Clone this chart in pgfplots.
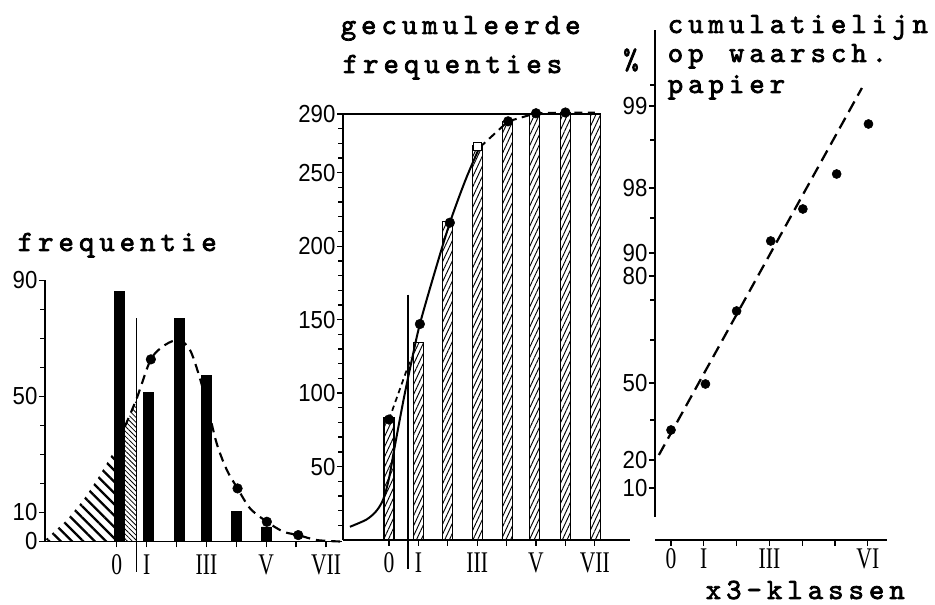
\documentclass[border=0pt]{standalone}
\usepackage{fontspec}
\usepackage{pgfplots}
\pgfplotsset{compat=1.18}
\usetikzlibrary{patterns.meta}

% fonts: narrow sans digits, narrow serif class numerals, heavy typewriter captions
\newfontfamily\digitfamily{Liberation Sans}[FakeStretch=0.9]
\newfontfamily\romfamily{Liberation Serif}[FakeStretch=0.72]
\newfontfamily\typefamily{lmmono10-regular.otf}[FakeBold=2.5]
\newcommand\tickfont{\fontsize{18.5pt}{18pt}\digitfamily}
\newcommand\romfont{\fontsize{22.5pt}{22pt}\romfamily}
\newcommand\typefont{\fontsize{22pt}{24pt}\typefamily}

% typewriter pitch: every character in a box of fixed width
\makeatletter
\def\spread@#1{\ifx#1\relax\else\hbox to 15.3pt{\hss#1\hss}\expandafter\spread@\fi}
\newcommand\spread[1]{\spread@#1\relax}
\makeatother

\pgfplotsset{
  sketch/.style={
    axis x line*=bottom, axis y line*=left,
    axis line style={line width=1.3pt,-},
    clip=false,
    tick align=outside,
    major tick length=4.5pt, minor tick length=3.5pt,
    every tick/.style={line width=1pt,black},
    yticklabel style={font=\tickfont, inner sep=1pt},
    xticklabel style={font=\romfont, inner sep=1pt, yshift=-4pt},
  },
}

\begin{document}
\begin{tikzpicture}[x=0.75pt,y=0.75pt]
\useasboundingbox (0,0) rectangle (935,605);

% ---------------- frequencies per class ----------------
\begin{axis}[sketch,
  at={(33.75pt,47.625pt)}, anchor=south west,
  x=22.425pt, y=2.175pt,
  xmin=-2.4, xmax=7.55, ymin=0, ymax=90,
  xtick={0,...,7}, xticklabels={0,I,,III,,V,,VII},
  ytick={0,10,50,90}, yticklabels={0,10,50,90},
  minor ytick={20,30,40,60,70,80},
]
% tail area below the lowest class boundary
\addplot[draw=none, pattern={Lines[angle=-45,distance=6pt,line width=1.7pt]}]
  coordinates {(-2.4,0.5) (-1.67,7.4) (-1.12,14.3) (-0.67,21.2) (-0.33,27) (-0.08,31.4)} \closedcycle;
\addplot[draw=none, pattern={Lines[angle=-45,distance=2.6pt,line width=0.6pt]}]
  coordinates {(0.27,39.6) (0.47,44.5) (0.67,49.4)} \closedcycle;
% class frequencies
\addplot[ybar, bar width=7.5pt, bar shift=0pt, fill=black, draw=black]
  coordinates {(0.1,86.2) (1.07,51.3) (2.1,77) (3.0,57.4) (4.0,10.3) (5.0,5)};
% class boundary
\addplot[line width=1pt] coordinates {(0.67,77) (0.67,-10.4)};
% fitted normal curve
\addplot[line width=1.6pt, dash pattern=on 7pt off 4.5pt, smooth]
  coordinates {(0.27,39.6) (0.67,49.4) (1.14,62.8) (1.62,67.8) (2.09,69.5) (2.45,66)
               (2.73,58) (3.01,47.7) (3.34,33.9) (3.68,24.7) (4.04,18.3) (4.46,11.4)
               (5.02,6.8) (5.57,3.4) (6.07,2.2) (6.69,0.5) (7.47,0)};
\addplot[only marks, mark=*, mark size=3.6pt]
  coordinates {(1.14,62.8) (2.09,69.5) (3.01,47.7) (4.04,18.3) (5.02,6.8) (6.07,2.2)};
\end{axis}

% ---------------- cumulative frequencies ----------------
\begin{axis}[sketch,
  at={(257.25pt,48.75pt)}, anchor=south west,
  x=22.05pt, y=1.10175pt,
  xmin=-1.565, xmax=8.2, ymin=0, ymax=290,
  xtick={0,...,7}, xticklabels={0,I,,III,,V,,VII},
  ytick={50,100,150,200,250,290}, yticklabels={50,100,150,200,250,290},
  minor ytick={10,20,30,40,60,70,80,90,110,120,130,140,160,170,180,190,210,220,230,240,260,270,280},
]
\addplot[ybar, bar width=7.5pt, bar shift=0pt, draw=black, line width=1pt,
  pattern={Lines[angle=65,distance=3.2pt,line width=0.7pt]}]
  coordinates {(0,83) (1,134.5) (2,217) (3,268.5) (4.03,285) (4.95,290) (6,291) (7.02,290)};
\addplot[line width=0.9pt] coordinates {(-1.565,290) (7.19,290)};
% class boundary
\addplot[line width=1pt] coordinates {(0.64,167) (0.64,-19.7)};
% cumulative curve
\addplot[line width=1.5pt, smooth]
  coordinates {(-1.33,9) (-0.76,14) (-0.42,20) (-0.19,28) (0,42) (0.18,62) (0.49,95)
               (0.77,122) (1.05,147) (1.55,182) (2.07,216) (2.6,245) (3.07,267)};
\addplot[line width=1.5pt, dash pattern=on 6pt off 4pt]
  coordinates {(3.07,267) (4.05,285) (5.0,290.5) (6.0,291) (7.0,291)};
\addplot[line width=1.3pt, dash pattern=on 4pt off 3pt]
  coordinates {(0,82) (0.75,124)};
\addplot[only marks, mark=*, mark size=3.6pt]
  coordinates {(0,82) (1.05,147) (2.07,216) (4.05,285) (5.0,290.5) (6.0,291)};
\addplot[only marks, mark=square*, mark size=3pt, mark options={fill=white,line width=1pt}]
  coordinates {(3.0,268)};
\end{axis}

% ---------------- probability paper ----------------
\begin{axis}[sketch,
  at={(491.25pt,66pt)}, anchor=south west,
  x=24.6pt, y=0.75pt,
  xmin=-0.488, xmax=6.585, ymin=23, ymax=510,
  axis x line shift=17.25pt,
  xticklabel style={yshift=3pt},
  xtick={0,...,6}, xticklabels={0,I,,III,,,VI},
  ytick={52,80,157,264,287,352,434}, yticklabels={10,20,50,80,90,98,99},
  minor ytick={120,200,240,322,400,455},
]
\addplot[line width=1.7pt, dash pattern=on 9pt off 5pt]
  coordinates {(-0.37,85) (5.82,452)};
\addplot[only marks, mark=*, mark size=3.4pt]
  coordinates {(0,110) (1.05,156) (2,229) (3.04,299) (4.02,331) (5.05,366) (6.02,416)};
\end{axis}

% captions
\begin{scope}[every node/.style={anchor=base west, inner sep=0pt, font=\typefont}]
\node at (15,354) {\spread{frequentie}};
\node at (338,571) {\spread{gecumuleerde}};
\node at (340,532) {\spread{frequenties}};
\node at (665,572) {\spread{cumulatielijn}};
\node at (665,543) {\spread{op~waarsch.}};
\node at (665,512) {\spread{papier}};
\node at (703,6) {\spread{x3-klassen}};
\node[anchor=center] at (631,545) {\%};
\end{scope}
\end{tikzpicture}
\end{document}
